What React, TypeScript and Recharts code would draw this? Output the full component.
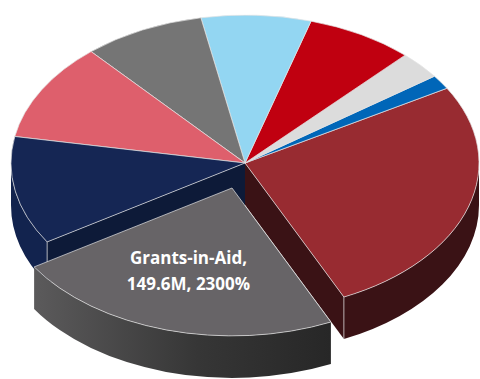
import { PieChart, Pie } from 'recharts';

const sliceNames = ['Salaries', 'Loans', 'Interest', 'Rent', 'Supplies', 'Travel', 'Services', 'Equipment', 'Grants-in-Aid'];
const sliceValues = [172.4, 10.1, 19.7, 48.4, 49.3, 54.7, 69.7, 77.0, 149.6];
const slicePercents = [27, 2, 3, 7, 8, 8, 11, 12, 23];
const topColors = ['#982b31', '#0066b8', '#dcdcdc', '#c00010', '#93d6f2', '#757575', '#de5f6c', '#152654', '#676467'];
const rimColors = ['#3a1215', '#003a69', '#7d7d7d', '#6d0009', '#53798a', '#424242', '#7e363d', '#12234e', 'url(#liftedRim)'];
const faceColors = ['#3a1215', '#003a69', '#7d7d7d', '#6d0009', '#53798a', '#424242', '#7e363d', '#0d1a38', '#3a3a3a'];

const tableRows = sliceNames.map((name, i) => ({
  name,
  value: sliceValues[i],
  percent: slicePercents[i],
  fill: topColors[i],
  rim: rimColors[i],
  face: faceColors[i],
}));

const WIDTH = 480;
const HEIGHT = 379;
const TILT = 0.632;
const DEPTH = 42;
const LIFT_X = -13;
const LIFT_Y = 25;
const EDGE = '#e4e4e4';
const LIFTED = sliceNames.length - 1;

const rad = (deg: number) => (deg * Math.PI) / 180;

const SliceShape = (props: any) => {
  const { cx, cy, outerRadius, startAngle, endAngle, fill } = props;
  const row = tableRows.find((r) => r.name === props.name) || tableRows[0];
  const index = tableRows.indexOf(row);
  const isLifted = index === LIFTED;
  const ox = cx + (isLifted ? LIFT_X : 0);
  const oy = cy + (isLifted ? LIFT_Y : 0);
  const rx = outerRadius;
  const ry = outerRadius * TILT;
  const px = (a: number) => ox + rx * Math.cos(rad(a));
  const py = (a: number) => oy - ry * Math.sin(rad(a));

  const large = endAngle - startAngle > 180 ? 1 : 0;
  const top = `M${ox},${oy} L${px(startAngle)},${py(startAngle)} A${rx},${ry} 0 ${large} 0 ${px(endAngle)},${py(endAngle)} Z`;

  // only the part of the rim on the viewer's side of the ellipse gets a wall
  const a0 = ((startAngle % 360) + 360) % 360;
  const a1 = a0 + (endAngle - startAngle);
  const lo = Math.max(a0, 180);
  const hi = Math.min(a1, 360);
  const hasRim = hi > lo;
  const rim = hasRim
    ? `M${px(lo)},${py(lo)} A${rx},${ry} 0 0 0 ${px(hi)},${py(hi)} L${px(hi)},${py(hi) + DEPTH} A${rx},${ry} 0 0 1 ${px(lo)},${py(lo) + DEPTH} Z`
    : null;

  // neighbours of the pulled-out slice show a cut face along that edge
  const cutAngle = index === LIFTED - 1 ? endAngle : index === (LIFTED + 1) % tableRows.length ? startAngle : null;
  const cut =
    cutAngle !== null
      ? `M${ox},${oy} L${px(cutAngle)},${py(cutAngle)} L${px(cutAngle)},${py(cutAngle) + DEPTH} L${ox},${oy + DEPTH} Z`
      : null;

  return (
    <g>
      {isLifted && (
        <defs>
          <linearGradient id="liftedRim" gradientUnits="userSpaceOnUse" x1={px(endAngle - 82)} y1="0" x2={px(endAngle)} y2="0">
            <stop offset="0%" stopColor="#5b5a5b" />
            <stop offset="55%" stopColor="#363636" />
            <stop offset="100%" stopColor="#272727" />
          </linearGradient>
        </defs>
      )}
      {rim && <path d={rim} fill={row.rim} stroke="none" />}
      {cut && <path d={cut} fill={row.face} stroke="none" />}
      {cutAngle !== null && (
        <line x1={px(cutAngle)} y1={py(cutAngle)} x2={px(cutAngle)} y2={py(cutAngle) + DEPTH} stroke={EDGE} strokeWidth={0.7} />
      )}
      <path d={top} fill={fill} stroke={EDGE} strokeWidth={0.7} strokeLinejoin="round" />
    </g>
  );
};

const renderLabel = (props: any) => {
  if (props.name !== sliceNames[LIFTED]) return null;
  const { cx, cy, outerRadius, midAngle, value, percent } = props;
  const row = tableRows[LIFTED];
  const x = cx + LIFT_X + outerRadius * 0.66 * Math.cos(rad(midAngle));
  const y = cy + LIFT_Y - outerRadius * TILT * 0.58 * Math.sin(rad(midAngle));
  return (
    <text x={x} y={y} textAnchor="middle" fill="#ffffff" fontFamily="'Open Sans', sans-serif" fontWeight={700} fontSize={17}>
      <tspan x={x} dy={-6}>{`${row.name},`}</tspan>
      <tspan x={x} dy={26}>{`${value}M, ${Math.round((percent ?? row.percent / 100) * 100)}%`}</tspan>
    </text>
  );
};

export default function App() {
  return (
    <div style={{ position: 'absolute', left: 0, top: 0, width: WIDTH, height: HEIGHT }}>
      <PieChart width={WIDTH} height={HEIGHT} margin={{ top: 0, right: 0, bottom: 0, left: 0 }}>
        <Pie
          data={tableRows}
          dataKey="value"
          nameKey="name"
          cx={245}
          cy={163}
          outerRadius={234}
          startAngle={295}
          endAngle={655}
          shape={SliceShape}
          label={renderLabel}
          labelLine={false}
          isAnimationActive={false}
        />
      </PieChart>
    </div>
  );
}
